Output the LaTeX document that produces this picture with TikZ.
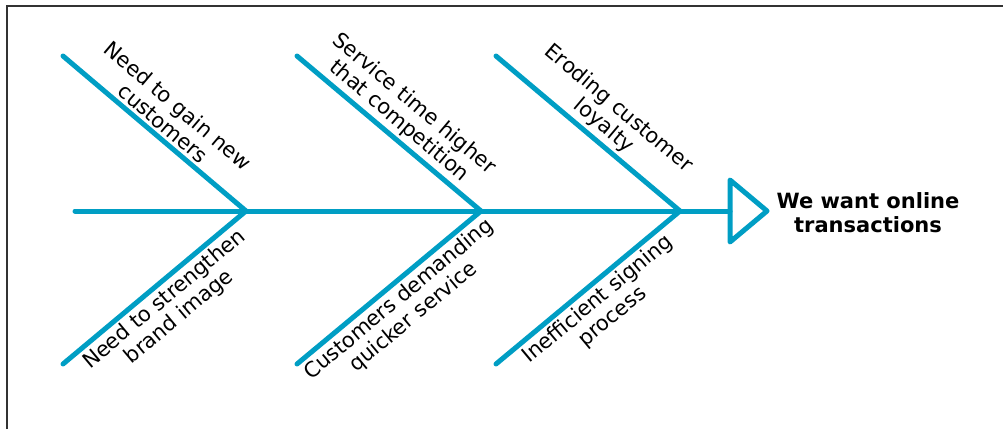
\documentclass[tikz,border=0pt]{standalone}
\usepackage{fontspec}
\setmainfont{DejaVu Sans}
\definecolor{fishblue}{RGB}{0,158,196}
\definecolor{framegray}{RGB}{50,50,50}
\tikzset{
  bone/.style={draw=fishblue, line width=5pt, line cap=round},
  cause/.style={font=\fontsize{21}{23}\selectfont, align=center, inner sep=3pt},
}
\begin{document}
\begin{tikzpicture}[x=1pt, y=-1pt]
        \useasboundingbox (0,0) rectangle (1003,429);
        \draw[framegray, line width=1.5pt] (7,429) -- (7,6) -- (1003,6);

        % spine with the three joints
        \coordinate (tail) at (75,211);
        \coordinate (j1) at (246,211);
        \coordinate (j2) at (481,211);
        \coordinate (j3) at (680,211);
        \coordinate (head) at (730,211);
        \draw[bone] (tail) -- (head);

        % head of the fish
        \coordinate (htop) at (730,180);
        \coordinate (htip) at (767,211);
        \coordinate (hbot) at (730,242);
        \draw[bone, line join=round] (htop) -- (htip) -- (hbot) -- cycle;
        \node[font=\fontsize{21}{24}\selectfont\bfseries, align=center] (effect) at (868,213) {We want online\\transactions};

        % upper bones
        \coordinate (u1) at (63,56);
        \coordinate (u2) at (297,56);
        \coordinate (u3) at (496,56);
        \draw[bone] (u1) -- (j1) node[cause, midway, sloped, above] (c1) {Need to gain new\\customers};
        \draw[bone] (u2) -- (j2) node[cause, midway, sloped, above] (c2) {Service time higher\\that competition};
        \draw[bone] (u3) -- (j3) node[cause, pos=0.53, sloped, above] (c3) {Eroding customer\\loyalty};

        % lower bones
        \coordinate (l1) at (63,364);
        \coordinate (l2) at (297,364);
        \coordinate (l3) at (496,364);
        \draw[bone] (l1) -- (j1) node[cause, midway, sloped, below] (c4) {Need to strengthen\\brand image};
        \draw[bone] (l2) -- (j2) node[cause, midway, sloped, below] (c5) {Customers demanding\\quicker service};
        \draw[bone] (l3) -- (j3) node[cause, midway, sloped, below] (c6) {Inefficient signing\\process};
    \end{tikzpicture}
\end{document}
